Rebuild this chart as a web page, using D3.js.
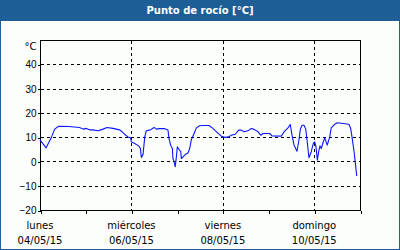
<!DOCTYPE html>
<html>
<head>
<meta charset="utf-8">
<script src="https://cdn.jsdelivr.net/npm/d3@7"></script>
<style>
  html, body { margin: 0; padding: 0; background: #fcfefc; }
  svg { display: block; font-family: "DejaVu Sans", Verdana, sans-serif; }
</style>
</head>
<body>
<div id="chart"></div>
<script>
// horas desde lunes 04/05/15 00:00 y punto de rocío (°C)
const hours = [0, 3.2, 5.9, 7.7, 9.8, 15.1, 20.8, 22.6, 24.3, 26.1, 27.8, 30.5, 33.1, 35.2, 38.3, 41.8,
  42.7, 44.5, 46.2, 47.6, 47.9, 49.7, 51.8, 52.7, 53.2, 54.1, 55.0, 55.8, 57.9, 59.9, 61.1, 62.8,
  65.5, 67.2, 67.7, 68.6, 69.5, 69.8, 70.4, 71.0, 71.6, 72.1, 73.0, 73.9, 74.2, 75.1, 76.5, 77.7,
  78.6, 79.4, 80.9, 82.1, 83.8, 85.6, 88.7, 90.8, 93.1, 95.2, 97.0, 99.1, 100.4, 102.5, 104.3,
  105.7, 107.1, 109.2, 110.9, 112.4, 114.5, 115.9, 117.1, 120.6, 121.8, 126.7, 128.1, 130.2,
  131.4, 132.3, 133.4, 134.9, 135.8, 136.7, 137.6, 138.6, 139.5, 140.3, 141.2, 142.4, 143.5,
  144.2, 144.9, 145.6, 146.3, 147.0, 147.7, 148.6, 149.5, 150.8, 152.1, 152.9, 154.7, 156.1,
  159.1, 162.2, 163.1, 163.8, 164.9, 165.5, 166.3];
const dewPoint = [8.9, 5.6, 9.7, 13.3, 14.5, 14.4, 14.0, 13.3, 13.6, 13.0, 13.0, 12.6, 13.3, 14.0, 13.6, 13.0,
  12.5, 11.1, 10.1, 9.7, 8.1, 7.4, 6.4, 5.3, 1.6, 2.9, 10.1, 12.6, 13.0, 14.0, 13.3, 13.5,
  13.5, 12.9, 9.5, 6.7, 5.3, 1.2, -0.2, -2.2, 1.9, 6.0, 4.9, 4.0, 1.2, 1.9, 3.0, 3.5,
  5.3, 8.8, 11.5, 13.8, 14.7, 14.8, 14.8, 13.6, 11.9, 10.4, 9.9, 10.1, 10.8, 11.2, 12.9,
  12.9, 12.2, 12.6, 13.6, 13.2, 12.2, 10.8, 11.5, 11.5, 10.5, 10.4, 12.2, 13.8,
  15.2, 10.8, 6.7, 4.2, 8.1, 13.3, 14.9, 14.9, 13.3, 8.1, 1.5, 4.0, 7.4,
  8.1, 6.0, 0.5, 4.0, 6.4, 5.3, 7.8, 9.7, 6.7, 10.1, 13.8, 15.3, 15.9,
  15.6, 15.3, 13.6, 10.1, 4.0, -0.2, -6.0];

const yTicks = [-20, -10, 0, 10, 20, 30, 40];
const dayNames = ["lunes", "martes", "miércoles", "jueves", "viernes", "sábado", "domingo", "lunes"];
const dayDates = ["04/05/15", "05/05/15", "06/05/15", "07/05/15", "08/05/15", "09/05/15", "10/05/15", "11/05/15"];
const labelDays = [0, 2, 4, 6];

const W = 400, H = 250;
const start = new Date(2015, 4, 4);
const addHours = h => new Date(start.getTime() + h * 3600e3);
const days = dayNames.map((d, i) => addHours(i * 24));

const svg = d3.select("#chart").append("svg")
  .attr("width", W).attr("height", H);

// fondo, cabecera y marco
svg.append("rect").attr("width", W).attr("height", H).attr("fill", "#fcfefc");
svg.append("rect").attr("width", W).attr("height", 21).attr("fill", "#1e5e96");
svg.append("rect").attr("x", 0.5).attr("y", 0.5).attr("width", W - 1).attr("height", H - 1)
  .attr("fill", "none").attr("stroke", "#1e5e96");
svg.append("text")
  .attr("x", W / 2).attr("y", 10.5)
  .attr("text-anchor", "middle").attr("dominant-baseline", "central")
  .style("font-size", "10px").style("font-weight", "bold").style("fill", "#ffffff")
  .text("Punto de rocío [°C]");

const x = d3.scaleTime().domain([days[0], days[7]]).range([40, 360]);
const y = d3.scaleLinear().domain([-20, 50]).range([210, 40]);

const g = svg.append("g").attr("transform", "translate(0.5,0.5)");

// rejilla
g.selectAll(".hgrid").data(yTicks.filter(v => v > -20))
  .enter().append("line")
  .attr("x1", x.range()[0]).attr("x2", x.range()[1])
  .attr("y1", d => y(d)).attr("y2", d => y(d))
  .attr("stroke", "#000").attr("stroke-dasharray", "3,3")
  .attr("shape-rendering", "crispEdges");

g.selectAll(".vgrid").data(labelDays.filter(i => i > 0))
  .enter().append("line")
  .attr("x1", i => Math.round(x(days[i]))).attr("x2", i => Math.round(x(days[i])))
  .attr("y1", y.range()[1]).attr("y2", y.range()[0])
  .attr("stroke", "#000").attr("stroke-dasharray", "3,3")
  .attr("shape-rendering", "crispEdges");

// serie
const line = d3.line()
  .x((d, i) => x(addHours(hours[i])))
  .y(d => y(d));

svg.append("path")
  .datum(dewPoint)
  .attr("d", line)
  .attr("fill", "none")
  .attr("stroke", "#0a14ff")
  .attr("stroke-width", 1.1)
  .attr("stroke-linejoin", "round");

// marco del área
g.append("rect")
  .attr("x", x.range()[0]).attr("y", y.range()[1])
  .attr("width", x.range()[1] - x.range()[0]).attr("height", y.range()[0] - y.range()[1])
  .attr("fill", "none").attr("stroke", "#000")
  .attr("shape-rendering", "crispEdges");

// ejes
const yAxis = g.append("g")
  .attr("transform", `translate(${x.range()[0]},0)`)
  .call(d3.axisLeft(y).tickValues(yTicks).tickSize(3).tickSizeOuter(0).tickPadding(1));
yAxis.select(".domain").remove();
yAxis.selectAll("text").style("font-size", "10px").style("fill", "#000")
  .attr("font-family", null);
yAxis.selectAll("line").attr("shape-rendering", "crispEdges");

g.append("text")
  .attr("x", 36).attr("y", 46)
  .attr("text-anchor", "end").attr("dominant-baseline", "central")
  .style("font-size", "10px")
  .text("°C");

const xAxis = g.append("g")
  .attr("transform", `translate(0,${y.range()[0]})`)
  .call(d3.axisBottom(x).tickValues(days).tickSize(3).tickSizeOuter(0).tickFormat(""));
xAxis.select(".domain").remove();
xAxis.selectAll("line").attr("shape-rendering", "crispEdges");

const labels = svg.selectAll(".xlabel").data(labelDays).enter().append("g");
labels.append("text")
  .attr("x", i => x(days[i])).attr("y", 225)
  .attr("text-anchor", "middle").attr("dominant-baseline", "central")
  .style("font-size", "10px")
  .text(i => dayNames[i]);
labels.append("text")
  .attr("x", i => x(days[i])).attr("y", 240)
  .attr("text-anchor", "middle").attr("dominant-baseline", "central")
  .style("font-size", "10px")
  .text(i => dayDates[i]);
</script>
</body>
</html>
